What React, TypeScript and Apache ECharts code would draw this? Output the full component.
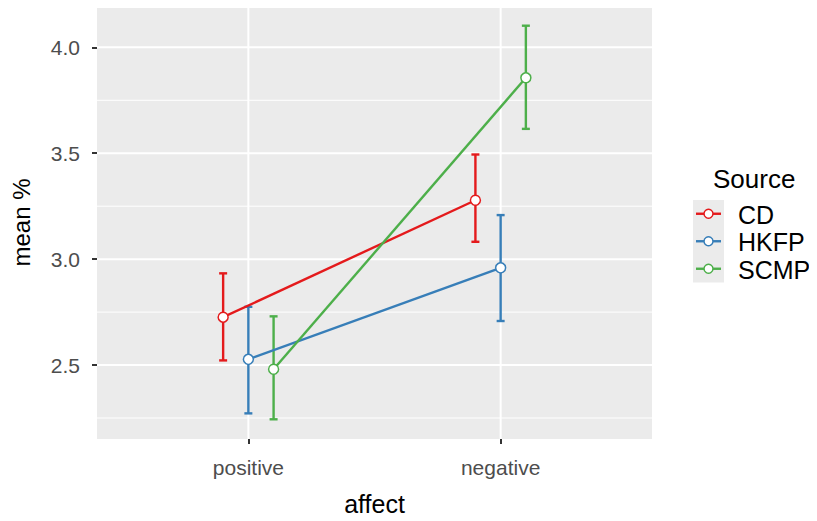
import React, { useEffect, useRef } from "react";
import * as echarts from "echarts";

const categories = ["positive", "negative"];
const sources = ["CD", "HKFP", "SCMP"];
const colors = ["#E41A1C", "#377EB8", "#4DAF4A"];

const cdMean = [2.726, 3.278];
const cdLow = [2.522, 3.082];
const cdHigh = [2.933, 3.494];
const hkfpMean = [2.527, 2.959];
const hkfpLow = [2.272, 2.708];
const hkfpHigh = [2.775, 3.208];
const scmpMean = [2.48, 3.856];
const scmpLow = [2.244, 3.615];
const scmpHigh = [2.73, 4.102];

const yTicks = [2.5, 3.0, 3.5, 4.0];
const yMinor = [2.25, 2.75, 3.25, 3.75];

const means = [cdMean, hkfpMean, scmpMean];
const lows = [cdLow, hkfpLow, scmpLow];
const highs = [cdHigh, hkfpHigh, scmpHigh];
const dodge = [-0.1, 0, 0.1];

const X_MIN = 0.4;
const X_MAX = 2.6;
const Y_MIN = 2.151;
const Y_MAX = 4.195;

const FONT = "Liberation Sans, Arial, sans-serif";

export default function App() {
  const ref = useRef<HTMLDivElement>(null);
  useEffect(() => {
    if (!ref.current) return;
    const chart = echarts.init(ref.current, undefined, { renderer: "svg" });
    const catPos = categories.map((_, i) => i + 1);

    const series: any[] = [];
    // gridlines drawn beneath data
    series.push({
      type: "custom",
      silent: true,
      z: 0,
      data: [[X_MIN, Y_MIN]],
      renderItem: (params: any, api: any) => {
        const children: any[] = [];
        yMinor.forEach((v) => {
          const a = api.coord([X_MIN, v]);
          const b = api.coord([X_MAX, v]);
          children.push({ type: "line", shape: { x1: a[0], y1: a[1], x2: b[0], y2: b[1] }, style: { stroke: "#ffffff", lineWidth: 1 } });
        });
        yTicks.forEach((v) => {
          const a = api.coord([X_MIN, v]);
          const b = api.coord([X_MAX, v]);
          children.push({ type: "line", shape: { x1: a[0], y1: a[1], x2: b[0], y2: b[1] }, style: { stroke: "#ffffff", lineWidth: 2 } });
        });
        catPos.forEach((v) => {
          const a = api.coord([v, Y_MIN]);
          const b = api.coord([v, Y_MAX]);
          children.push({ type: "line", shape: { x1: a[0], y1: a[1], x2: b[0], y2: b[1] }, style: { stroke: "#ffffff", lineWidth: 2 } });
        });
        return { type: "group", children };
      },
    });
    sources.forEach((s, si) => {
      const errData = categories.map((_, ci) => [catPos[ci] + dodge[si], lows[si][ci], highs[si][ci]]);
      series.push({
        type: "custom",
        name: s + "-err",
        z: 2,
        silent: true,
        data: errData,
        renderItem: (params: any, api: any) => {
          const x = api.value(0);
          const lo = api.coord([x, api.value(1)]);
          const hi = api.coord([x, api.value(2)]);
          const hw = 4;
          const st = { stroke: colors[si], lineWidth: 2.4 };
          return {
            type: "group",
            children: [
              { type: "line", shape: { x1: lo[0], y1: lo[1], x2: hi[0], y2: hi[1] }, style: st },
              { type: "line", shape: { x1: hi[0] - hw, y1: hi[1], x2: hi[0] + hw, y2: hi[1] }, style: st },
              { type: "line", shape: { x1: lo[0] - hw, y1: lo[1], x2: lo[0] + hw, y2: lo[1] }, style: st },
            ],
          };
        },
      });
    });
    sources.forEach((s, si) => {
      series.push({
        type: "line",
        name: s,
        z: 3,
        data: categories.map((_, ci) => [catPos[ci] + dodge[si], means[si][ci]]),
        lineStyle: { color: colors[si], width: 2.4 },
        symbol: "circle",
        symbolSize: 10,
        itemStyle: { color: "#ffffff", borderColor: colors[si], borderWidth: 1.5 },
      });
    });

    // legend graphic
    const legendTop = 200;
    const rowH = 27.5;
    const legendChildren: any[] = [
      {
        type: "text",
        x: 713,
        y: 179,
        style: { text: "Source", font: `26px ${FONT}`, fill: "#000000", verticalAlign: "middle", textAlign: "left" },
      },
      { type: "rect", shape: { x: 693, y: legendTop, width: 31, height: rowH * 3 }, style: { fill: "#EBEBEB" } },
    ];
    sources.forEach((s, si) => {
      const cy = legendTop + rowH * si + rowH / 2;
      legendChildren.push(
        { type: "line", shape: { x1: 696, y1: cy, x2: 721, y2: cy }, style: { stroke: colors[si], lineWidth: 2.4 } },
        { type: "circle", shape: { cx: 708.5, cy, r: 4.5 }, style: { fill: "#ffffff", stroke: colors[si], lineWidth: 1.5 } },
        {
          type: "text",
          x: 738,
          y: cy + 1,
          style: { text: s, font: `25px ${FONT}`, fill: "#000000", verticalAlign: "middle", textAlign: "left" },
        }
      );
    });

    chart.setOption({
      animation: false,
      backgroundColor: "#ffffff",
      grid: { left: 97, right: 165, top: 6, bottom: 81, show: true, backgroundColor: "#EBEBEB", borderWidth: 0 },
      xAxis: {
        type: "value",
        min: X_MIN,
        max: X_MAX,
        name: "affect",
        nameLocation: "middle",
        nameGap: 52,
        nameTextStyle: { fontSize: 25, color: "#000000", fontFamily: FONT },
        axisLine: { show: false },
        splitLine: { show: false },
        axisTick: { show: true, length: 5, customValues: catPos, lineStyle: { color: "#333333", width: 2 } },
        axisLabel: {
          customValues: catPos,
          margin: 18,
          fontSize: 21,
          color: "#4D4D4D",
          fontFamily: FONT,
          formatter: (v: number) => categories[Math.round(v) - 1] ?? "",
        },
      },
      yAxis: {
        type: "value",
        min: Y_MIN,
        max: Y_MAX,
        name: "mean %",
        nameLocation: "middle",
        nameGap: 64,
        nameTextStyle: { fontSize: 24, color: "#000000", fontFamily: FONT },
        axisLine: { show: false },
        splitLine: { show: false },
        axisTick: { show: true, length: 5, customValues: yTicks, lineStyle: { color: "#333333", width: 2 } },
        axisLabel: {
          customValues: yTicks,
          margin: 17,
          fontSize: 21,
          color: "#4D4D4D",
          fontFamily: FONT,
          formatter: (v: number) => v.toFixed(1),
        },
      },
      series,
      graphic: legendChildren,
    });
    return () => chart.dispose();
  }, []);
  return <div ref={ref} style={{ width: 817, height: 521, margin: -8 }} />;
}
